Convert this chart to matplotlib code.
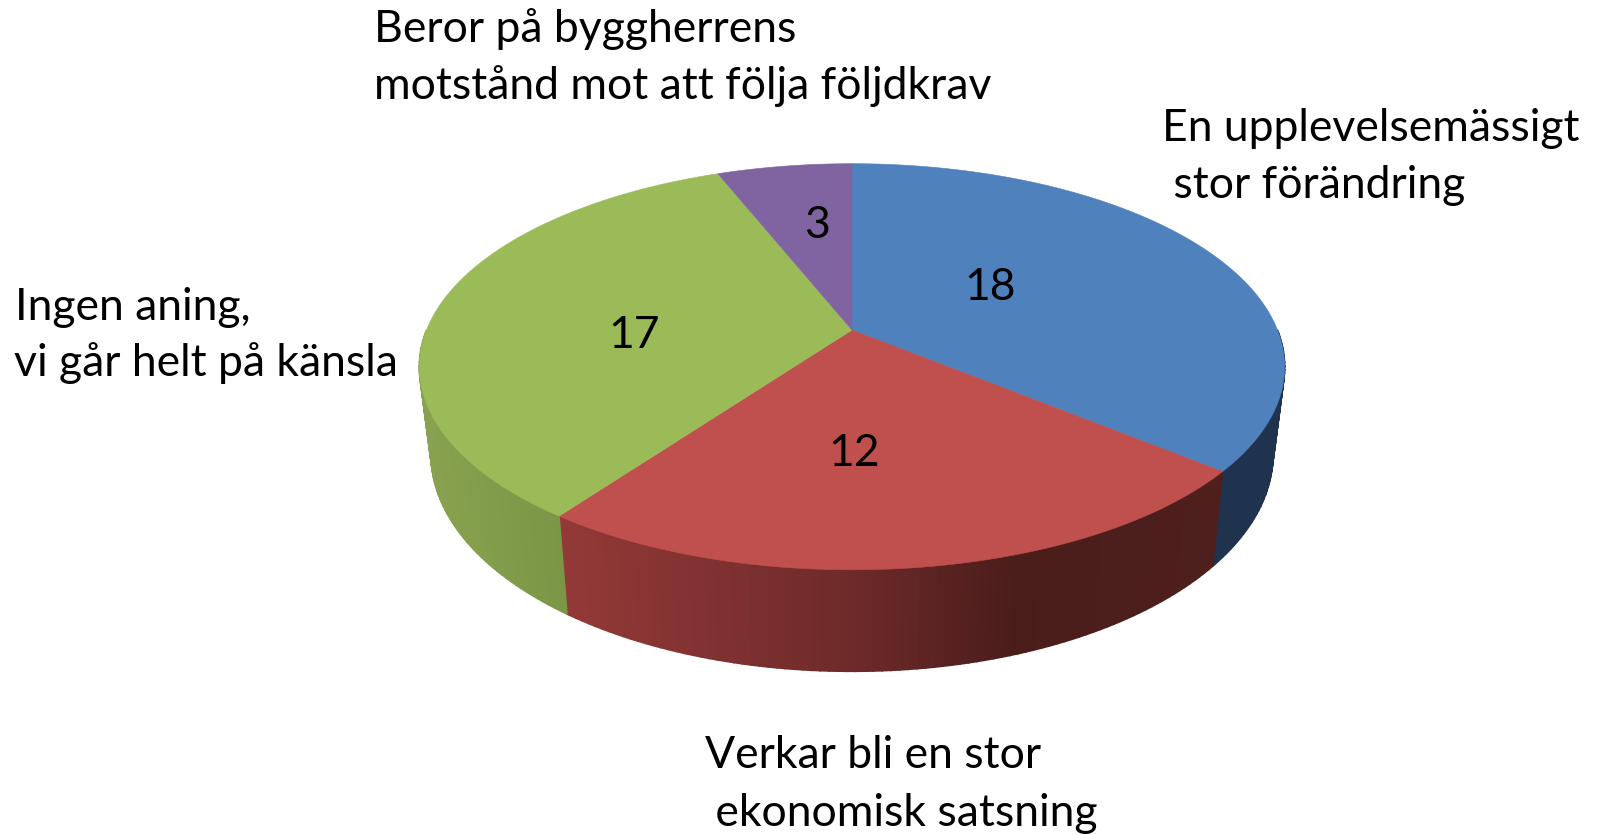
import numpy as np
import matplotlib
matplotlib.use('Agg')
import matplotlib.pyplot as plt

# slices clockwise from 12 o'clock
values = [18, 12, 17, 3]
top_colors = ['#4F81BD', '#C0504D', '#9BBB59', '#8064A2']
value_pos = [(990, 287), (854, 453), (634, 336), (817, 226)]

label_lines = ['En upplevelsemässigt', ' stor förändring',
               'Verkar bli en stor', ' ekonomisk satsning',
               'Ingen aning,', 'vi går helt på känsla',
               'Beror på byggherrens', 'motstånd mot att följa följdkrav']
label_pos = [(1162, 141), (1162, 198),
             (705, 768), (704, 826),
             (15, 320), (14, 376),
             (374, 42), (374, 99)]

# side shading, x position -> rgb
shade_x = {0: [1190, 1290], 1: [560, 850, 1010, 1230], 2: [420, 570], 3: [700, 860]}
shade_rgb = {0: [(31, 51, 79), (31, 51, 79)],
             1: [(148, 58, 56), (110, 42, 42), (74, 29, 27), (78, 31, 29)],
             2: [(138, 163, 80), (122, 150, 70)],
             3: [(70, 55, 90), (70, 55, 90)]}

k = 0.181
cx = 852


def project(theta, b, a, y0):
    # circle seen in perspective, theta clockwise from the back of the pie
    u, v = np.sin(theta), np.cos(theta)
    d = 1 + k * v
    return cx + b * u / d, y0 - a * v / d


def top_edge(theta):
    return project(theta, 425.5, 196.4, 330)


def bottom_edge(theta):
    return project(theta, 414, 209.9, 415)


def side_color(i, x):
    return [np.interp(x, shade_x[i], [c[n] for c in shade_rgb[i]]) / 255 for n in range(3)]


fig = plt.figure(figsize=(16, 8.35), dpi=100)
ax = fig.add_axes([0, 0, 1, 1])
ax.set_xlim(0, 1600)
ax.set_ylim(835, 0)
ax.axis('off')

edges = np.cumsum([0] + values) / sum(values) * 2 * np.pi

# outer wall first, only the front part shows
for i in range(len(values)):
    steps = np.arange(edges[i], edges[i + 1], np.radians(1))
    steps = np.append(steps, edges[i + 1])
    for t0, t1 in zip(steps[:-1], steps[1:]):
        if np.cos((t0 + t1) / 2) > 0:
            continue
        x0, y0 = top_edge(t0)
        x1, y1 = top_edge(t1)
        x2, y2 = bottom_edge(t1)
        x3, y3 = bottom_edge(t0)
        c = side_color(i, (x2 + x3) / 2)
        ax.fill([x0, x1, x2, x3], [y0, y1, y2, y3], facecolor=c, edgecolor=c, lw=1.2, zorder=1)

# top faces
for i in range(len(values)):
    t = np.linspace(edges[i], edges[i + 1], 200)
    x, y = top_edge(t)
    ax.fill(np.append(cx, x), np.append(330, y), color=top_colors[i], lw=0.4, zorder=2)

for val, (x, y) in zip(values, value_pos):
    ax.text(x, y, str(val), ha='center', va='center', family='Lato', fontsize=32, color='black', zorder=3)

for line, (x, y) in zip(label_lines, label_pos):
    ax.text(x, y, line, ha='left', va='baseline', family='Lato', fontsize=32, color='black', zorder=3)

fig.savefig('out.png', dpi=100)
